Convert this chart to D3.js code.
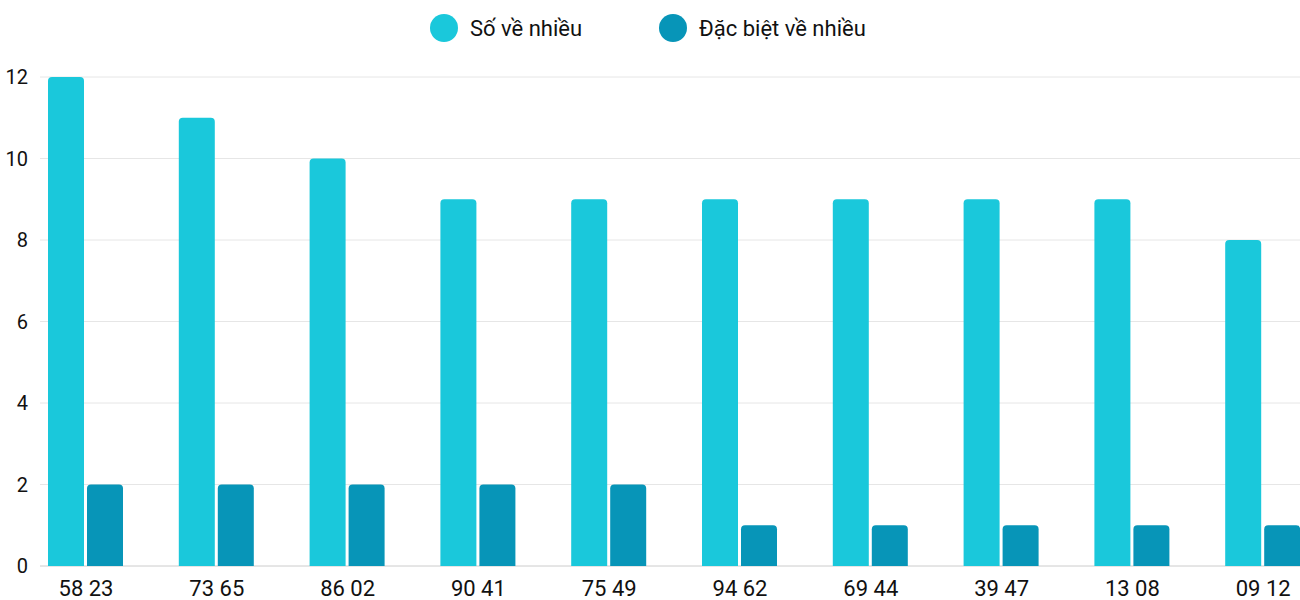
<!DOCTYPE html><html><head><meta charset="utf-8"><script src="https://cdn.jsdelivr.net/npm/d3@7"></script>
<style>body{margin:0;background:#fff}svg{font-family:Roboto,sans-serif}</style></head><body><svg id="c" width="1300" height="600"></svg><script>
const categories=["58 23","73 65","86 02","90 41","75 49","94 62","69 44","39 47","13 08","09 12"];
const soVeNhieu=[12,11,10,9,9,9,9,9,9,8];
const dacBiet=[2,2,2,2,2,1,1,1,1,1];
const yTicks=[0,2,4,6,8,10,12];
const seriesNames=["Số về nhiều","Đặc biệt về nhiều"];
const colors=["#1ac8db","#0795b8"];
const svg=d3.select("#c");
const x=d3.scaleBand().domain(categories).range([40,40+130.8*10]);
const y=d3.scaleLinear().domain([0,12]).range([566,77]);
svg.append("g").selectAll("line").data(yTicks).join("line").attr("x1",40).attr("x2",1300).attr("y1",d=>y(d)).attr("y2",d=>y(d)).attr("stroke",(d)=>d===0?"#ccc":"#e6e6e6");
svg.append("g").selectAll("text").data(yTicks).join("text").attr("x",28).attr("y",d=>y(d)+7).attr("text-anchor","end").attr("font-size",20).attr("fill","#111").text(d=>d);
function bar(x0,w,v){const yt=y(v),yb=y(0),r=4;return `M${x0},${yb}V${yt+r}Q${x0},${yt} ${x0+r},${yt}H${x0+w-r}Q${x0+w},${yt} ${x0+w},${yt+r}V${yb}Z`;}
[soVeNhieu,dacBiet].forEach((s,i)=>{svg.append("g").selectAll("path").data(categories).join("path").attr("fill",colors[i]).attr("d",(c,j)=>bar(x(c)+8+i*39,36,s[j]));});
svg.append("g").selectAll("text").data(categories).join("text").attr("x",c=>x(c)+46).attr("y",596).attr("text-anchor","middle").attr("font-size",22).attr("fill","#111").text(c=>c);
const lx=[444,673];
seriesNames.forEach((n,i)=>{svg.append("circle").attr("cx",lx[i]).attr("cy",28).attr("r",14).attr("fill",colors[i]);svg.append("text").attr("x",lx[i]+26).attr("y",36).attr("font-size",22).attr("fill","#111").text(n);});
</script></body></html>
